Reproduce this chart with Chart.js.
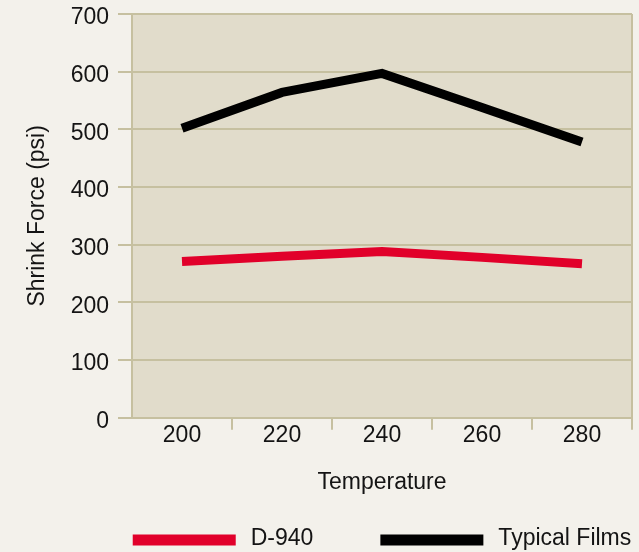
<!DOCTYPE html>
<html>
<head>
<meta charset="utf-8">
<script src="https://cdn.jsdelivr.net/npm/chart.js@4/dist/chart.umd.min.js"></script>
<style>
  html, body { margin: 0; padding: 0; background: #f3f1eb; }
  #wrap { width: 639px; height: 552px; }
</style>
</head>
<body>
<div id="wrap"><canvas id="c" width="639" height="552"></canvas></div>
<script>
// ---- data ----
const TEMPERATURES = ['200', '220', '240', '260', '280'];
const D940 = [271, 280, 288, 278, 267];
const TYPICAL_FILMS = [502, 564, 597, 538, 478];
const SERIES_NAMES = ['D-940', 'Typical Films'];
const Y_MIN = 0;
const Y_MAX = 700;
const Y_STEP = 100;
const X_TITLE = 'Temperature';
const Y_TITLE = 'Shrink Force (psi)';

// ---- style ----
const FONT_FAMILY = '"Liberation Sans", Arial, Helvetica, sans-serif';
const FONT_SIZE = 23;
const TEXT_COLOR = '#141414';
const GRID = '#c6c0a0';
const PLOT_BG = '#e1dccb';
const PAGE_BG = '#f3f1eb';
const RED = '#e1002a';
const BLACK = '#000000';
const TRANSPARENT = 'rgba(0,0,0,0)';

const backgroundPlugin = {
  id: 'bg',
  beforeDraw(chart) {
    const { ctx, chartArea: a } = chart;
    ctx.save();
    ctx.fillStyle = PAGE_BG;
    ctx.fillRect(0, 0, chart.width, chart.height);
    ctx.fillStyle = PLOT_BG;
    ctx.fillRect(a.left, a.top, a.right - a.left, a.bottom - a.top);
    ctx.restore();
  }
};

const legendPlugin = {
  id: 'customLegend',
  afterDraw(chart) {
    const { ctx, chartArea: a } = chart;
    const boxW = 103, boxH = 11, textGap = 15, itemGap = 67;
    ctx.save();
    ctx.font = FONT_SIZE + 'px ' + FONT_FAMILY;
    const items = chart.data.datasets.map(ds => ({
      text: ds.label,
      color: ds.borderColor,
      w: boxW + textGap + ctx.measureText(ds.label).width
    }));
    const total = items.reduce((s, it) => s + it.w, 0) + itemGap * (items.length - 1);
    let x = (a.left + a.right - total) / 2;
    const yC = chart.height - 12;
    items.forEach(it => {
      ctx.fillStyle = it.color;
      ctx.fillRect(x, yC - boxH / 2, boxW, boxH);
      ctx.fillStyle = TEXT_COLOR;
      ctx.textBaseline = 'middle';
      ctx.textAlign = 'left';
      ctx.fillText(it.text, x + boxW + textGap, yC - 1);
      x += it.w + itemGap;
    });
    ctx.restore();
  }
};

const font = { family: FONT_FAMILY, size: FONT_SIZE };

new Chart(document.getElementById('c'), {
  type: 'line',
  data: {
    labels: TEMPERATURES,
    datasets: [
      {
        label: SERIES_NAMES[0],
        data: D940,
        borderColor: RED,
        backgroundColor: RED,
        borderWidth: 9,
        pointRadius: 0,
        pointHoverRadius: 0,
        tension: 0,
        fill: false,
        borderCapStyle: 'butt',
        borderJoinStyle: 'miter'
      },
      {
        label: SERIES_NAMES[1],
        data: TYPICAL_FILMS,
        borderColor: BLACK,
        backgroundColor: BLACK,
        borderWidth: 9,
        pointRadius: 0,
        pointHoverRadius: 0,
        tension: 0,
        fill: false,
        borderCapStyle: 'butt',
        borderJoinStyle: 'miter'
      }
    ]
  },
  options: {
    responsive: false,
    animation: false,
    layout: { padding: { top: 14, right: 7, bottom: 56, left: 0 } },
    plugins: {
      legend: { display: false },
      tooltip: { enabled: false }
    },
    scales: {
      x: {
        type: 'category',
        offset: true,
        grid: {
          offset: true,
          drawOnChartArea: true,
          drawTicks: true,
          tickLength: 12,
          lineWidth: 2,
          color: c => (c.type === 'scale' ? GRID : TRANSPARENT),
          tickColor: c => (c.index === 0 ? TRANSPARENT : GRID)
        },
        border: { display: true, color: GRID, width: 2 },
        ticks: {
          font: font,
          color: TEXT_COLOR,
          padding: -7.4,
          maxRotation: 0,
          autoSkip: false
        },
        title: {
          display: true,
          text: X_TITLE,
          font: font,
          color: TEXT_COLOR,
          padding: { top: 25.9, bottom: 0 }
        }
      },
      y: {
        type: 'linear',
        min: Y_MIN,
        max: Y_MAX,
        grid: {
          color: GRID,
          lineWidth: 2,
          tickLength: 14,
          drawTicks: true
        },
        border: { display: true, color: GRID, width: 2 },
        ticks: {
          stepSize: Y_STEP,
          font: font,
          color: TEXT_COLOR,
          padding: 9,
          labelOffset: 4
        },
        title: {
          display: true,
          text: Y_TITLE,
          font: font,
          color: TEXT_COLOR,
          padding: { top: 24, bottom: 0 }
        },
        afterFit(scale) {
          scale.width = 132;
          scale.paddingTop = 0;
          scale.paddingBottom = 0;
        }
      }
    }
  },
  plugins: [backgroundPlugin, legendPlugin]
});
</script>
</body>
</html>
